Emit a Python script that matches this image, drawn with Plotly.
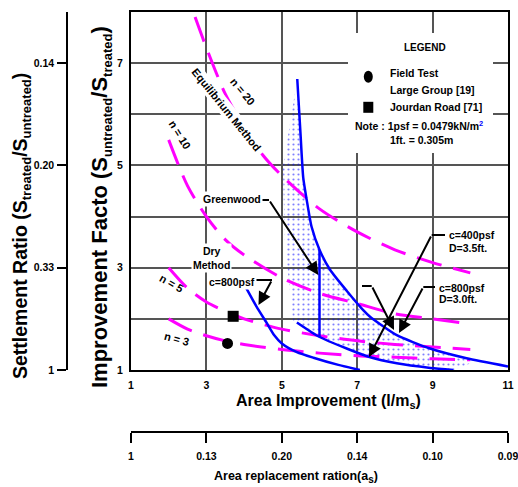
import plotly.graph_objects as go
import numpy as np

# ---------------- data ----------------
x_ticks = [1, 3, 5, 7, 9, 11]
ratio_ticklabels = ['1', '0.13', '0.20', '0.14', '0.10', '0.09']
if_tickvals = [1, 2, 3, 4, 5, 6, 7, 8]
if_ticklabels = ['1', '', '3', '', '5', '', '7', '']
settle_tickvals = [1, 3, 5, 7]
settle_ticklabels = ['1', '0.33', '0.20', '0.14']

# Equilibrium method curves (n = 3, 5, 10, 20)
eq_x = [2.0, 2.5, 3.0, 3.5, 4.0, 5.0, 6.0, 7.0, 8.0, 9.0, 10.0]
n3_if = [2.0, 1.8, 1.67, 1.57, 1.5, 1.4, 1.33, 1.28, 1.25, 1.22, 1.2]
n5_if = [3.0, 2.6, 2.33, 2.15, 2.0, 1.8, 1.67, 1.57, 1.5, 1.45, 1.4]
n10_if = [5.5, 4.6, 4.0, 3.55, 3.25, 2.8, 2.5, 2.3, 2.1, 2.0, 1.9]
n20_x = [2.7, 3.0, 3.5, 4.0, 4.5, 5.0, 6.0, 7.0, 8.0, 9.0, 10.0]
n20_if = [7.9, 7.3, 6.4, 5.75, 5.2, 4.8, 4.15, 3.7, 3.35, 3.1, 2.9]

# Greenwood / vibro curves
upper_x = [5.41, 5.49, 5.57, 5.66, 5.79, 6.0, 6.28, 6.72, 7.16, 7.34, 7.6, 8.05, 8.93, 9.9, 11.0]
upper_if = [6.69, 5.7, 4.75, 4.33, 3.80, 3.35, 2.96, 2.55, 2.17, 2.04, 1.9, 1.68, 1.42, 1.23, 1.07]
lower_x = [5.40, 5.99, 6.72, 7.30, 8.05, 8.94, 9.55]
lower_if = [1.93, 1.65, 1.42, 1.26, 1.13, 1.04, 1.0]
dry_x = [4.0, 4.33, 4.6, 4.8, 5.0, 5.4, 5.84, 6.5, 7.07]
dry_if = [2.68, 2.24, 1.92, 1.68, 1.52, 1.35, 1.24, 1.10, 1.0]
vline_x = [6.0, 6.0]
vline_if = [3.35, 1.65]

# dotted zone, left boundary and right end
shade_left_x = [5.30, 5.08, 5.03, 5.35]
shade_left_if = [1.94, 3.5, 4.97, 6.42]
shade_right_x = 10.2

# field tests
field_name = ['Large Group [19]', 'Jourdan Road [71]']
field_x = [3.56, 3.71]
field_if = [1.52, 2.05]
field_symbol = ['circle', 'square']

# ---------------- geometry helpers (pixel -> data / paper) ----------------
W, H = 518, 487
ML, MR, MT, MB = 67, 10, 12, 55
PX0, PX1, PY0, PY1 = 131, 508, 12, 370  # main plot area in pixels


def X(px):
    return 1 + (px - PX0) * 10.0 / (PX1 - PX0)


def Y(py):
    return 1 + (PY1 - py) * 7.0 / (PY1 - PY0)


def PX(px):
    return (px - ML) / (W - ML - MR)


def PY(py):
    return (H - MB - py) / (H - MT - MB)


FONT = 'Liberation Sans, Arial, sans-serif'
BLUE = '#0000FF'
MAG = '#FF00FF'

fig = go.Figure()

# dotted zone
ub_x = [x for x in upper_x if x <= shade_right_x] + [shade_right_x]
ub_y = [y for x, y in zip(upper_x, upper_if) if x <= shade_right_x] + [float(np.interp(shade_right_x, upper_x, upper_if))]
poly_x = shade_left_x + ub_x + lower_x[::-1]
poly_y = shade_left_if + ub_y + lower_if[::-1]
fig.add_trace(go.Scatter(x=poly_x, y=poly_y, fill='toself', mode='none',
                         fillcolor='rgba(0,0,0,0)',
                         fillpattern=dict(shape='.', fgcolor=BLUE, bgcolor='rgba(0,0,0,0)',
                                          size=5, solidity=0.15),
                         hoverinfo='skip', showlegend=False))

# equilibrium curves
for xs, ys in [(eq_x, n3_if), (eq_x, n5_if), (eq_x, n10_if), (n20_x, n20_if)]:
    fig.add_trace(go.Scatter(x=xs, y=ys, mode='lines', line=dict(color=MAG, width=3, dash='26px,12px', shape='spline', smoothing=0.8),
                             showlegend=False, hoverinfo='skip'))

# blue curves
for xs, ys in [(upper_x, upper_if), (lower_x, lower_if), (dry_x, dry_if), (vline_x, vline_if)]:
    fig.add_trace(go.Scatter(x=xs, y=ys, mode='lines', line=dict(color=BLUE, width=2.5, shape='spline', smoothing=0.6),
                             showlegend=False, hoverinfo='skip'))

# field test points
for nm, xv, yv, sym in zip(field_name, field_x, field_if, field_symbol):
    fig.add_trace(go.Scatter(x=[xv], y=[yv], mode='markers', name=nm,
                             marker=dict(symbol=sym, size=11, color='black'), showlegend=False))

# helper traces so the secondary axes render
fig.add_trace(go.Scatter(x=[x_ticks[0]], y=[settle_tickvals[0]], xaxis='x2', yaxis='y', mode='markers',
                         marker=dict(opacity=0), showlegend=False, hoverinfo='skip'))
fig.add_trace(go.Scatter(x=[x_ticks[0]], y=[settle_tickvals[0]], xaxis='x', yaxis='y2', mode='markers',
                         marker=dict(opacity=0), showlegend=False, hoverinfo='skip'))

shapes = []
# legend white box
shapes.append(dict(type='rect', xref='x', yref='y', x0=X(348), x1=X(493), y0=Y(153), y1=Y(33),
                   fillcolor='white', line=dict(width=0), layer='above'))
# legend symbols
shapes.append(dict(type='circle', xref='x', yref='y', xsizemode='pixel', ysizemode='pixel',
                   xanchor=X(368.3), yanchor=Y(76.7), x0=-4.5, x1=4.5, y0=-6, y1=6,
                   fillcolor='black', line=dict(width=0), layer='above'))
shapes.append(dict(type='rect', xref='x', yref='y', xsizemode='pixel', ysizemode='pixel',
                   xanchor=X(368.3), yanchor=Y(107.3), x0=-5, x1=5, y0=-5.5, y1=5.5,
                   fillcolor='black', line=dict(width=0), layer='above'))

# arrows: (horizontal start, bend point, tip) in pixels
arrows = [
    ((260, 200), (269, 200), (318.3, 275)),
    ((253, 280), (272, 280), (258.5, 305)),
    ((445, 235), (431.7, 235), (369, 357)),
    ((435, 287), (423.3, 287), (399, 333)),
    ((362, 286), (371.7, 286), (394, 330)),
]
annotations = []
for (s, b, t) in arrows:
    shapes.append(dict(type='line', xref='x', yref='y', x0=X(s[0]), y0=Y(s[1]), x1=X(b[0]), y1=Y(b[1]),
                       line=dict(color='black', width=2), layer='above'))
    annotations.append(dict(x=X(t[0]), y=Y(t[1]), ax=X(b[0]), ay=Y(b[1]), xref='x', yref='y',
                            axref='x', ayref='y', text='', showarrow=True, arrowhead=2,
                            arrowsize=1.3, arrowwidth=2, arrowcolor='black'))


def txt(text, px, py, size=10.5, angle=0, xanchor='center', bg=None, color='black'):
    d = dict(text=text, x=X(px), y=Y(py), xref='x', yref='y', showarrow=False,
             textangle=angle, xanchor=xanchor, yanchor='middle',
             font=dict(family=FONT, size=size, color=color, weight='bold'))
    if bg:
        d['bgcolor'] = bg
        d['borderpad'] = 1
    annotations.append(d)


# in-plot text
txt('Greenwood', 231.7, 198.5, bg='white')
txt('Dry<br>Method', 211, 258, bg='white')
txt('c=800psf', 232, 281.7, bg='white')
txt('c=400psf', 446.7, 235, xanchor='left')
txt('D=3.5ft.', 446.7, 248.3, xanchor='left')
txt('c=800psf', 436.7, 288, xanchor='left')
txt('D=3.0ft.', 436.7, 299, xanchor='left')
txt('Equilibrium Method', 226.7, 110, size=11, angle=51, bg='white')
txt('n = 20', 243.3, 91.7, size=11, angle=50)
txt('n = 10', 180, 135, size=11, angle=58)
txt('n = 5', 171, 283, size=11, angle=30)
txt('n = 3', 176.7, 339, size=11, angle=15)
# legend
txt('LEGEND', 425, 47.7, size=10)
txt('Field Test', 388.3, 73.3, xanchor='left')
txt('Large Group [19]', 388.3, 90, xanchor='left')
txt('Jourdan Road [71]', 388.3, 107.3, xanchor='left')
txt("Note : 1psf = 0.0479kN/m<sup><span style='color:blue'>2</span></sup>", 353.3, 125, xanchor='left')
txt('1ft. = 0.305m', 388.3, 140, xanchor='left')


def title(text, px, py, size, angle=0):
    annotations.append(dict(text=text, x=PX(px), y=PY(py), xref='paper', yref='paper', showarrow=False,
                            textangle=angle, xanchor='center', yanchor='middle',
                            font=dict(family=FONT, size=size, color='black', weight='bold')))


def sub(s, size=13):
    return "<sub><span style='font-size:%dpx'>%s</span></sub>" % (size, s)


title('Settlement Ratio (S' + sub('treated') + '/S' + sub('untreated') + ')', 21, 226, 19.5, -90)
title('Improvement Facto (S' + sub('untreated') + '/S' + sub('treated') + ')', 101, 207, 22, -90)
title('Area Improvement (l/m' + sub('s', 11) + ')', 328, 401, 16)
title('Area replacement ration(a' + sub('s', 10) + ')', 296, 477, 12.5)

tickfont = dict(family=FONT, size=10.5, color='black', weight='bold')
fig.update_layout(
    width=W, height=H, margin=dict(l=ML, r=MR, t=MT, b=MB, pad=0, autoexpand=False),
    paper_bgcolor='white', plot_bgcolor='white', showlegend=False,
    font=dict(family=FONT, color='black'),
    xaxis=dict(domain=[PX(PX0), 1], range=[1, 11], tickvals=x_ticks, ticktext=[str(v) for v in x_ticks],
               showgrid=True, gridcolor='#555555', gridwidth=1.5, zeroline=False, automargin=False,
               showline=True, mirror=True, linecolor='black', linewidth=2, ticks='',
               tickfont=tickfont, ticklabelstandoff=4, anchor='y', ticklabeloverflow='allow'),
    yaxis=dict(domain=[PY(PY1), 1], range=[1, 8], tickvals=if_tickvals, ticktext=if_ticklabels,
               showgrid=True, gridcolor='#555555', gridwidth=1.5, zeroline=False, automargin=False,
               showline=True, mirror=True, linecolor='black', linewidth=2, ticks='',
               tickfont=tickfont, ticklabelstandoff=4, anchor='x'),
    xaxis2=dict(overlaying='x', anchor='free', position=0, side='bottom', range=[1, 11],
                tickvals=x_ticks, ticktext=ratio_ticklabels, showgrid=False, zeroline=False, automargin=False,
                showline=True, linecolor='black', linewidth=1.5, ticks='outside', ticklen=10,
                tickwidth=1.5, tickcolor='black', tickfont=tickfont, ticklabelstandoff=5,
                ticklabeloverflow='allow'),
    yaxis2=dict(overlaying='y', anchor='free', position=0, side='left', range=[1, 8],
                tickvals=settle_tickvals, ticktext=settle_ticklabels, showgrid=False, zeroline=False, automargin=False,
                showline=True, linecolor='black', linewidth=1.5, ticks='outside', ticklen=9,
                tickwidth=1.5, tickcolor='black', tickfont=tickfont, ticklabelstandoff=1),
    shapes=shapes, annotations=annotations,
)

fig.write_html('out.html', config={'displayModeBar': False},
               post_script="document.body.style.margin='0px';document.body.style.padding='0px';")
